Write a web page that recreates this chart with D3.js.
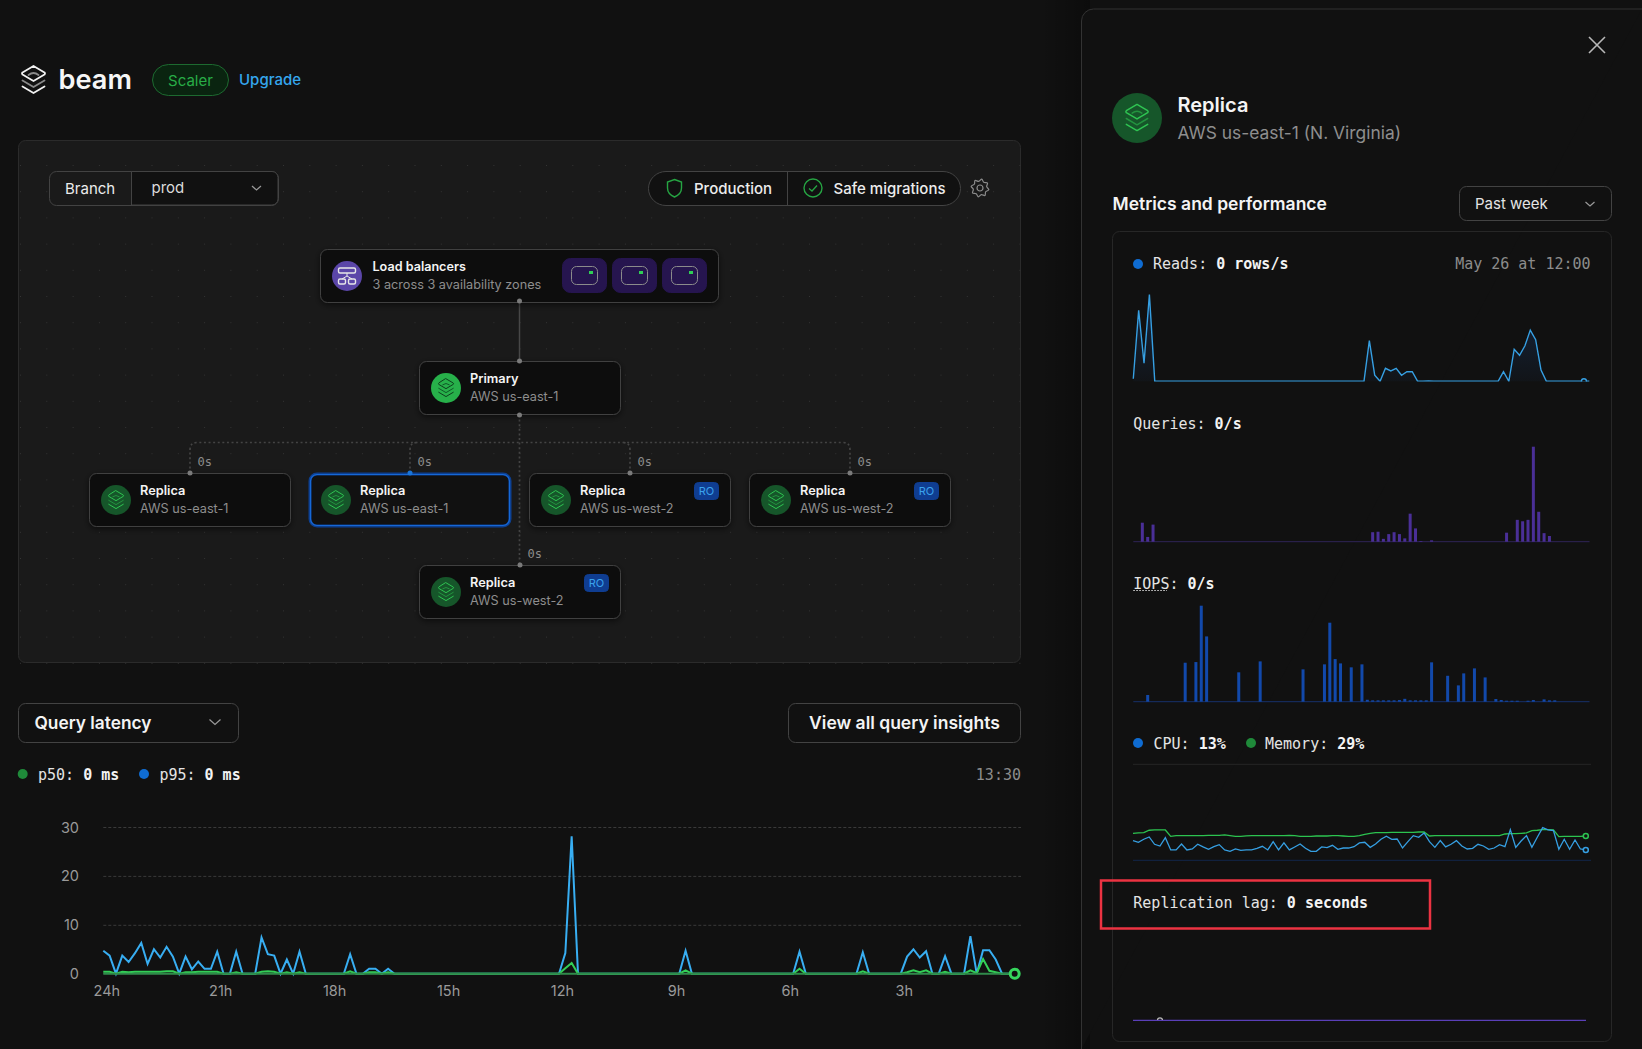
<!DOCTYPE html>
<html>
<head>
<meta charset="utf-8">
<style>
html, body { margin: 0; padding: 0; background: #111111; overflow: hidden; }
svg { display: block; }
text { font-family: Inter, "Noto Sans", sans-serif; }
.mono { font-family: "DejaVu Sans Mono", monospace; font-size: 15px; }
</style>
<script src="https://cdn.jsdelivr.net/npm/d3@7"></script>
</head>
<body>
<svg id="page" width="1642" height="1049"></svg>
<script>
// query latency, one reading every 10 minutes over 24 hours
const latencyHours = [24, 21, 18, 15, 12, 9, 6, 3];
const latencyTicks = [0, 10, 20, 30];
const p95Values = [
    4.7, 3.7, 0, 3.7, 2.4, 4.2, 6.3, 2, 5, 3.3,
    5.5, 3.5, 0, 3.5, 0.9, 2.5, 1, 1, 4.5, 0,
    0, 4.5, 0, 0, 0, 7.4, 4, 3.7, 0, 2.9,
    0, 4.5, 0, 0, 0, 0, 0, 0, 0, 4,
    0, 0, 1, 1, 0, 1, 0, 0, 0, 0,
    0, 0, 0, 0, 0, 0, 0, 0, 0, 0,
    0, 0, 0, 0, 0, 0, 0, 0, 0, 0,
    0, 0, 0, 4.2, 28.1, 0, 0, 0, 0, 0,
    0, 0, 0, 0, 0, 0, 0, 0, 0, 0,
    0, 0, 4.7, 0, 0, 0, 0, 0, 0, 0,
    0, 0, 0, 0, 0, 0, 0, 0, 0, 0,
    4.5, 0, 0, 0, 0, 0, 0, 0, 0, 0,
    4.4, 0, 0, 0, 0, 0, 0, 3.5, 5, 3.3,
    4.6, 0, 0, 3.6, 0, 0, 0, 7.7, 0, 4.8,
    4.8, 2.9, 0, 0, 0
];
const p50Values = [
    0.4, 0.4, 0, 0.4, 0.3, 0.4, 0.4, 0.4, 0.4, 0.4,
    0.5, 0.5, 0, 0.3, 0.3, 0.4, 0.4, 0.4, 0.4, 0,
    0, 0.3, 0, 0, 0, 0.4, 0.5, 0.4, 0, 0.3,
    0, 0.3, 0, 0, 0, 0, 0, 0, 0, 0.5,
    0, 0, 0.3, 0.3, 0, 0.3, 0, 0, 0, 0,
    0, 0, 0, 0, 0, 0, 0, 0, 0, 0,
    0, 0, 0, 0, 0, 0, 0, 0, 0, 0,
    0, 0, 0, 1.1, 2.2, 0, 0, 0, 0, 0,
    0, 0, 0, 0, 0, 0, 0, 0, 0, 0,
    0, 0, 0.7, 0, 0, 0, 0, 0, 0, 0,
    0, 0, 0, 0, 0, 0, 0, 0, 0, 0,
    1, 0, 0, 0, 0, 0, 0, 0, 0, 0,
    0.5, 0, 0, 0, 0, 0, 0, 0.3, 0.7, 0.3,
    0.7, 0, 0, 0.4, 0, 0, 0, 0.7, 0.1, 3,
    0.6, 0.3, 0, 0, 0
];

// side panel metrics, past week, values relative to each chart's own peak
const readsValues = [
    3, 82, 21, 100, 0, 0, 0, 0, 0, 0,
    0, 0, 0, 0, 0, 0, 0, 0, 0, 0,
    0, 0, 0, 0, 0, 0, 0, 0, 0, 0,
    0, 0, 0, 0, 0, 0, 0, 0, 0, 0,
    0, 0, 0, 0, 47, 7, 0, 15, 12, 15,
    7, 11, 11, 0, 0, 0.3, 0, 0, 0, 0,
    0, 0, 0, 0, 0, 0, 0, 0, 0, 11,
    0, 37, 30, 41, 59, 48, 13, 0, 0, 0,
    0, 0, 0, 0, 0, 0
];
const queriesValues = [
    0, 20, 5, 18, 0, 0, 0, 0, 0, 0,
    0, 0, 0, 0, 0, 0, 0, 0, 0, 0,
    0, 0, 0, 0, 0, 0, 0, 0, 0, 0,
    0, 0, 0, 0, 0, 0, 0, 0, 0, 0,
    0, 0, 0, 0, 10, 10.5, 3, 8, 10, 8,
    3.5, 29.5, 14, 0.7, 0, 1.4, 0, 0, 0, 0,
    0, 0, 0, 0, 0, 0, 0, 0, 0, 9.5,
    0, 23, 21.5, 23, 100, 31.5, 9, 6, 0, 0,
    0, 0, 0, 0, 0
];
const iopsValues = [
    0, 0, 7, 0, 0, 0, 0, 0, 0, 40.6,
    0, 41.3, 100, 68, 0, 0, 0, 0, 0, 30.6,
    0, 0, 0, 42, 0, 0, 0, 0, 0, 0,
    0, 33.7, 0, 0, 0, 38.9, 82.3, 44.4, 39.9, 0,
    35.8, 0, 38.9, 2, 1.4, 1.4, 1.4, 1.4, 1.4, 1.7,
    3, 1.4, 1.4, 1.4, 1.4, 41, 0, 0, 27, 0,
    17, 29.5, 0, 34.7, 0, 25.3, 0, 2.8, 1.7, 1,
    1, 1, 0, 1, 1.7, 0, 2.4, 1.4, 1.4, 0,
    0, 0, 0, 0, 0
];
const cpuValues = [
    20.5, 18.8, 21.9, 24.3, 16.7, 14.9, 23.6, 10.8, 10.8, 17,
    10.8, 11.8, 16.7, 13.9, 11.5, 14.2, 16.3, 10.8, 9.4, 11.8,
    10.4, 10.8, 10.8, 12.5, 14.6, 10.8, 19.4, 10.8, 18.1, 10.8,
    13.9, 17, 12.5, 9.4, 9.4, 13.9, 13.2, 15.6, 11.5, 12.8,
    12.8, 14.2, 18.1, 18.8, 13.5, 17, 21.9, 25, 21.9, 22.2,
    12.8, 19.4, 25.7, 24, 28.5, 19.4, 13.5, 20.5, 13.9, 16.7,
    20.5, 14.9, 11.8, 12.5, 16.7, 14.9, 11.5, 12.8, 16.3, 14.2,
    31.9, 13.5, 20.1, 25.7, 13.5, 24, 34, 31.6, 30.9, 11.5,
    21.9, 11.5, 21.2, 11.8, 10.8
];
const memoryValues = [
    28.1, 28.5, 28.8, 31.3, 31.6, 31.6, 31.6, 25, 25.7, 25.7,
    25.7, 25.7, 25.7, 25.7, 26, 26, 26, 26.4, 25.7, 25,
    25, 25.4, 25.7, 25.7, 25.7, 25.7, 25.7, 25.7, 25.7, 26,
    25.7, 25, 25, 25, 25.3, 25.3, 25.3, 25.7, 25.7, 25.3,
    25, 25, 25.7, 27.1, 28.1, 28.8, 28.8, 28.8, 29.1, 29.1,
    29.1, 29.1, 29.1, 29.5, 29.5, 25.3, 25.7, 25.7, 25.7, 25.7,
    25.7, 25.7, 25.7, 25.7, 25.7, 25.7, 25.7, 25.7, 25.7, 27.4,
    27.8, 27.8, 28.1, 28.5, 30.9, 31.3, 31.9, 31.9, 31.6, 24.7,
    25, 25, 25, 25, 25.3
];
const lagValues = [
    0, 0, 0, 0, 0, 0, 0, 0, 0, 0,
    0, 0, 0, 0, 0, 0, 0, 0, 0, 0,
    0, 0, 0, 0, 0, 0, 0, 0, 0, 0,
    0, 0, 0, 0, 0, 0, 0, 0, 0, 0,
    0, 0, 0, 0, 0, 0, 0, 0, 0, 0,
    0, 0, 0, 0, 0, 0, 0, 0, 0, 0,
    0, 0, 0, 0, 0, 0, 0, 0, 0, 0,
    0, 0, 0, 0, 0, 0, 0, 0, 0, 0,
    0, 0, 0, 0, 0
];

// topology
const replicaNames = ["Replica", "Replica", "Replica", "Replica", "Replica"];
const replicaRegions = ["AWS us-east-1", "AWS us-east-1", "AWS us-west-2", "AWS us-west-2", "AWS us-west-2"];
const replicaBadges = [false, false, true, true, true];
const replicaLags = ["0s", "0s", "0s", "0s", "0s"];

const svg = d3.select("#page");
const defs = svg.append("defs");

const colors = {
    bright: "#f4f4f4",
    muted: "#8e8e8e",
    border: "#3a3a3a",
    green: "#2fce55",
    legendGreen: "#1f8a3a",
    legendBlue: "#0f6cd2",
    lineBlue: "#38aef2",
    purple: "#4a2f97",
    barBlue: "#1249ab"
};

const addText = (parent, x, y, str, size, fill, weight = 400, anchor = "start") =>
    parent.append("text").attr("x", x).attr("y", y).attr("font-size", size)
        .attr("fill", fill).attr("font-weight", weight).attr("text-anchor", anchor).text(str);

const addBox = (parent, x, y, w, h, r, fill, stroke) =>
    parent.append("rect").attr("x", x + 0.5).attr("y", y + 0.5).attr("width", w - 1).attr("height", h - 1)
        .attr("rx", r).attr("fill", fill).attr("stroke", stroke).attr("stroke-width", 1);

const addChevron = (parent, cx, cy, size = 4.5) =>
    parent.append("path").attr("d", `M${cx - size},${cy - size / 2.2}L${cx},${cy + size / 2.2}L${cx + size},${cy - size / 2.2}`)
        .attr("fill", "none").attr("stroke", "#9a9a9a").attr("stroke-width", 1.2);

const addMonoPair = (parent, x, y, label, value) => {
    const t = parent.append("text").attr("class", "mono").attr("x", x).attr("y", y).attr("fill", "#e4e4e4");
    t.append("tspan").text(label + " ");
    t.append("tspan").attr("font-weight", 700).attr("fill", "#f4f4f4").text(value);
    return t;
};

// stacked layers glyph used for the logo and the database nodes
const addStack = (parent, cx, cy, k, color, midColor, width = 1.5) => {
    const g = parent.append("g").attr("transform", `translate(${cx},${cy}) scale(${k})`)
        .attr("fill", "none").attr("stroke-linejoin", "round").attr("stroke-linecap", "round");
    g.append("path").attr("d", "M0,-14 L11,-7.5 Q12,-6.5 11,-5.5 L0,1 L-11,-5.5 Q-12,-6.5 -11,-7.5 Z")
        .attr("stroke", color).attr("stroke-width", width / k);
    g.append("path").attr("d", "M-5,-5 Q0,-9 5,-5").attr("stroke", midColor).attr("stroke-width", width / k);
    g.append("path").attr("d", "M-11,0.5 L0,7 L11,0.5").attr("stroke", midColor).attr("stroke-width", width / k);
    g.append("path").attr("d", "M-11,6.5 L0,13 L11,6.5").attr("stroke", color).attr("stroke-width", width / k);
};

const drawPageBackground = () => {
    const shade = defs.append("linearGradient").attr("id", "drawer-shade");
    shade.append("stop").attr("offset", 0).attr("stop-color", "#000").attr("stop-opacity", 0);
    shade.append("stop").attr("offset", 1).attr("stop-color", "#000").attr("stop-opacity", 0.3);
    const shadow = defs.append("filter").attr("id", "node-shadow").attr("x", "-10%").attr("y", "-20%").attr("width", "120%").attr("height", "150%");
    shadow.append("feDropShadow").attr("dx", 0).attr("dy", 2).attr("stdDeviation", 3).attr("flood-color", "#000").attr("flood-opacity", 0.55);
    svg.append("rect").attr("width", 1642).attr("height", 1049).attr("fill", "#111111");
    svg.append("rect").attr("x", 1040).attr("width", 50).attr("height", 1049).attr("fill", "url(#drawer-shade)");
};

const drawHeader = () => {
    addStack(svg, 33.5, 80, 1, "#f2f2f2", "#8a8a8a", 1.8);
    addText(svg, 58.5, 89, "beam", 27.2, "#f6f6f6", 600);
    addBox(svg, 152, 64, 77, 32, 16, "#0a2410", "#1d6a30");
    addText(svg, 190.5, 85.5, "Scaler", 15, "#28ad47", 400, "middle");
    addText(svg, 239, 85, "Upgrade", 15, "#35a7ee", 500);
};

const drawTopologyPanel = () => {
    addBox(svg, 18, 140, 1003, 523, 7, "#1a1a1a", "#2b2b2b");
    const dotX = d3.range(0, 39).map(i => 20 + i * 26.3);
    const dotY = d3.range(0, 20).map(i => 165 + i * 26.2);
    const dots = svg.append("g").attr("fill", "#343434");
    dotY.forEach(y => dots.selectAll(null).data(dotX).join("rect")
        .attr("x", d => d).attr("y", y).attr("width", 1).attr("height", 1));

    // branch picker
    addBox(svg, 49, 171, 230, 35, 7, "#1a1a1a", "#434343");
    svg.append("path").attr("d", "M131.5,171.5H272a6,6 0 0 1 6,6V199a6,6 0 0 1 -6,6H131.5Z")
        .attr("fill", "#111").attr("stroke", "#434343");
    addText(svg, 65, 194, "Branch", 15, "#ececec");
    addText(svg, 151.5, 193, "prod", 15, "#dcdcdc");
    addChevron(svg, 256.5, 188);

    // environment pill
    addBox(svg, 648, 171, 313, 35, 17.5, "#111", "#434343");
    svg.append("line").attr("x1", 787.5).attr("x2", 787.5).attr("y1", 171).attr("y2", 206).attr("stroke", "#434343");
    svg.append("path").attr("d", "M674.5,179.5 L681.5,182 V188 Q681.5,194 674.5,197 Q667.5,194 667.5,188 V182 Z")
        .attr("fill", "none").attr("stroke", "#26a543").attr("stroke-width", 1.4);
    addText(svg, 694, 194, "Production", 15, "#ececec", 500);
    svg.append("circle").attr("cx", 813).attr("cy", 188).attr("r", 9).attr("fill", "none").attr("stroke", "#26a543").attr("stroke-width", 1.4);
    svg.append("path").attr("d", "M809,188.5 L812,191 L817,185.5").attr("fill", "none").attr("stroke", "#26a543").attr("stroke-width", 1.3);
    addText(svg, 833.5, 194, "Safe migrations", 15, "#ececec", 500);

    // settings gear
    const gear = svg.append("g").attr("transform", "translate(980,188)").attr("fill", "none").attr("stroke", "#8c8c8c").attr("stroke-width", 1.2);
    gear.append("circle").attr("r", 3);
    const gearPath = d3.range(0, 16).map(i => {
        const a = (i + 0.5) * Math.PI / 8;
        const r = i % 2 ? 6.8 : 9;
        return [Math.cos(a) * r, Math.sin(a) * r];
    });
    gear.append("path").attr("d", d3.line().curve(d3.curveCatmullRomClosed)(gearPath));
};

const drawLinks = () => {
    const dash = svg.append("g").attr("fill", "none").attr("stroke", "#444444").attr("stroke-width", 1.7).attr("stroke-dasharray", "2 2.6");
    dash.append("path").attr("d", "M190,473V450Q190,442.5 197,442.5H843Q850,442.5 850,450V473");
    dash.append("path").attr("d", "M410,473V450Q410,442.5 417,442.5");
    dash.append("path").attr("d", "M630,473V450Q630,442.5 623,442.5");
    dash.append("path").attr("d", "M519.5,415V565");
    svg.append("line").attr("x1", 519.5).attr("x2", 519.5).attr("y1", 301).attr("y2", 361).attr("stroke", "#474747").attr("stroke-width", 1.5);
};

const drawLoadBalancers = () => {
    addBox(svg, 320, 249, 399, 54, 7, "#111", "#404040").attr("filter", "url(#node-shadow)");
    svg.append("circle").attr("cx", 347).attr("cy", 276).attr("r", 15).attr("fill", "#5b46a8");
    const icon = svg.append("g").attr("fill", "none").attr("stroke", "#e8e8e8").attr("stroke-width", 1.4);
    icon.append("rect").attr("x", 338.5).attr("y", 268).attr("width", 17).attr("height", 5).attr("rx", 1.5);
    icon.append("rect").attr("x", 338.5).attr("y", 279).attr("width", 7).attr("height", 5).attr("rx", 1.5);
    icon.append("rect").attr("x", 348.5).attr("y", 279).attr("width", 7).attr("height", 5).attr("rx", 1.5);
    icon.append("path").attr("d", "M347,273V276M342,279L347,276L352,279").attr("stroke-width", 1);
    addText(svg, 372.5, 271, "Load balancers", 12.6, colors.bright, 600);
    addText(svg, 372.5, 289, "3 across 3 availability zones", 12.7, colors.muted);
    [562, 612, 662].forEach(x => {
        addBox(svg, x, 258, 45, 35, 8, "#26154f", "#26154f");
        svg.append("rect").attr("x", x + 9.5).attr("y", 266.5).attr("width", 26).attr("height", 18).attr("rx", 5)
            .attr("fill", "none").attr("stroke", "#8b8b8b").attr("stroke-width", 1);
        svg.append("rect").attr("x", x + 27).attr("y", 271).attr("width", 4).attr("height", 3).attr("fill", colors.green);
    });
};

const drawNode = (x, y, title, region, badge, selected, primary) => {
    if (selected) {
        svg.append("rect").attr("x", x + 1).attr("y", y + 1).attr("width", 200).attr("height", 52).attr("rx", 7)
            .attr("fill", "#111").attr("stroke", "#0d3f8f").attr("stroke-width", 3);
        svg.append("rect").attr("x", x + 1.5).attr("y", y + 1.5).attr("width", 199).attr("height", 51).attr("rx", 6.5)
            .attr("fill", "none").attr("stroke", "#1668d6").attr("stroke-width", 1.2);
    } else {
        addBox(svg, x, y, 202, 54, 7, "#111", "#404040").attr("filter", "url(#node-shadow)");
    }
    svg.append("circle").attr("cx", x + 27).attr("cy", y + 27).attr("r", 15).attr("fill", primary ? "#27b04a" : "#16562a");
    if (primary) addStack(svg, x + 27, y + 27, 0.66, "#0d3f1d", "#0f5a28", 1);
    else addStack(svg, x + 27, y + 27, 0.66, "#2fc452", "#23933f", 1);
    addText(svg, x + 51, y + 21.5, title, 12.8, colors.bright, 600);
    addText(svg, x + 51, y + 39.7, region, 12.7, colors.muted);
    if (badge) {
        addBox(svg, x + 165, y + 9, 25, 18, 4, "#0f3d91", "#0f3d91");
        addText(svg, x + 177.5, y + 22, "RO", 11, "#3aa3ee", 400, "middle");
    }
};

const addDot = (x, y, fill = "#7a7a7a") =>
    svg.append("circle").attr("cx", x).attr("cy", y).attr("r", 2.5).attr("fill", fill);

const drawTopology = () => {
    drawLinks();
    drawLoadBalancers();
    drawNode(419, 361, "Primary", "AWS us-east-1", false, false, true);
    const nodeX = [89, 309, 529, 749, 419];
    const nodeY = [473, 473, 473, 473, 565];
    replicaNames.forEach((name, i) => {
        drawNode(nodeX[i], nodeY[i], name, replicaRegions[i], replicaBadges[i], i === 1, false);
        addDot(nodeX[i] + 101, nodeY[i], i === 1 ? "#1a74d8" : "#7a7a7a");
        const lagLabel = addText(svg, nodeX[i] + 108.5, nodeY[i] - 7.5, replicaLags[i], 12, "#8c8c8c");
        lagLabel.style("font-family", '"DejaVu Sans Mono", monospace');
    });
    addDot(519.5, 301);
    addDot(519.5, 361);
    addDot(519.5, 415);
};

const drawLatency = () => {
    addBox(svg, 18, 703, 221, 40, 7, "#111", "#434343");
    addText(svg, 34.5, 729, "Query latency", 17.3, colors.bright, 600);
    addChevron(svg, 215, 722, 5.5);
    addBox(svg, 788, 703, 233, 40, 7, "#111", "#434343");
    addText(svg, 904.5, 729, "View all query insights", 17.5, colors.bright, 600, "middle");

    svg.append("circle").attr("cx", 22.7).attr("cy", 774).attr("r", 5).attr("fill", colors.legendGreen);
    addMonoPair(svg, 38, 780, "p50:", "0 ms");
    svg.append("circle").attr("cx", 144).attr("cy", 774).attr("r", 5).attr("fill", colors.legendBlue);
    addMonoPair(svg, 159.4, 780, "p95:", "0 ms");
    svg.append("text").attr("class", "mono").attr("x", 1021).attr("y", 780).attr("text-anchor", "end").attr("fill", "#8c8c8c").text("13:30");

    const x = d3.scaleLinear().domain([24, 0]).range([103.3, 1014.7]);
    const y = d3.scaleLinear().domain([0, 30]).range([973.7, 827]);
    const hourOf = (d, i) => 24 - i / 6;

    const yAxis = d3.axisLeft(y).tickValues(latencyTicks).tickSize(0).tickPadding(0);
    const yg = svg.append("g").attr("transform", "translate(79,0)").call(yAxis);
    yg.select(".domain").remove();
    yg.selectAll("text").attr("font-size", 14.5).attr("fill", "#9a9a9a").attr("font-family", "Inter").attr("dy", "0.35em");

    const xAxis = d3.axisBottom(x).tickValues(latencyHours).tickFormat(d => d + "h").tickSize(0).tickPadding(0);
    const xg = svg.append("g").attr("transform", "translate(3,986)").call(xAxis);
    xg.select(".domain").remove();
    xg.selectAll("text").attr("font-size", 14.5).attr("fill", "#9a9a9a").attr("font-family", "Inter").attr("dy", "0.71em");

    svg.append("g").selectAll("line").data(latencyTicks.filter(d => d > 0)).join("line")
        .attr("x1", 103.3).attr("x2", 1021).attr("y1", d => y(d) + 0.5).attr("y2", d => y(d) + 0.5)
        .attr("stroke", "#3a3a3a").attr("stroke-dasharray", "3 2");
    svg.append("line").attr("x1", 103.3).attr("x2", 1014.7).attr("y1", y(0)).attr("y2", y(0)).attr("stroke", "#444").attr("stroke-width", 1);

    const line = d3.line().x((d, i) => x(hourOf(d, i))).y(d => y(d));
    svg.append("path").datum(p95Values).attr("d", line).attr("fill", "none").attr("stroke", colors.lineBlue).attr("stroke-width", 2);
    svg.append("path").datum(p50Values).attr("d", line).attr("fill", "none").attr("stroke", "#33cf57").attr("stroke-width", 2);
    svg.append("path").datum(p50Values.map(() => 0)).attr("d", line).attr("fill", "none").attr("stroke", "#2f8a4a").attr("stroke-width", 2);
    svg.append("circle").attr("cx", x(0)).attr("cy", y(0)).attr("r", 4.5).attr("fill", "#111").attr("stroke", "#36d65c").attr("stroke-width", 3);
};

const drawDrawerShell = () => {
    svg.append("path").attr("d", "M1081.5,1049V21a12,12 0 0 1 12,-12H1642").attr("fill", "#111").attr("stroke", "#333");
    svg.append("path").attr("d", "M1589,37L1605,53M1605,37L1589,53").attr("stroke", "#b8b8b8").attr("stroke-width", 1.6);
    svg.append("circle").attr("cx", 1137).attr("cy", 118).attr("r", 25).attr("fill", "#16562a");
    addStack(svg, 1137, 118, 0.97, "#2fc452", "#23933f", 1.5);
    addText(svg, 1177.5, 112, "Replica", 20, colors.bright, 600);
    addText(svg, 1177.5, 138.7, "AWS us-east-1 (N. Virginia)", 17.4, colors.muted);
    addText(svg, 1112.5, 210, "Metrics and performance", 17.5, colors.bright, 600);
    addBox(svg, 1459, 186, 153, 35, 7, "#111", "#434343");
    addText(svg, 1475, 209, "Past week", 15, "#e4e4e4");
    addChevron(svg, 1590, 204);
    addBox(svg, 1112, 231, 500, 811, 7, "none", "#272727");
};

const drawReads = () => {
    svg.append("circle").attr("cx", 1138).attr("cy", 264).attr("r", 5).attr("fill", colors.legendBlue);
    addMonoPair(svg, 1153, 269, "Reads:", "0 rows/s");
    svg.append("text").attr("class", "mono").attr("x", 1590.6).attr("y", 269).attr("text-anchor", "end").attr("fill", "#8c8c8c").text("May 26 at 12:00");

    const x = d3.scaleLinear().domain([0, readsValues.length - 1]).range([1133.3, 1589.3]);
    const y = d3.scaleLinear().domain([0, 100]).range([381.3, 294.6]);
    const fade = defs.append("linearGradient").attr("id", "reads-fill").attr("x1", 0).attr("x2", 0).attr("y1", 0).attr("y2", 1);
    fade.append("stop").attr("offset", 0).attr("stop-color", "#1c4f9a").attr("stop-opacity", 0.35);
    fade.append("stop").attr("offset", 1).attr("stop-color", "#1c4f9a").attr("stop-opacity", 0.05);
    defs.append("clipPath").attr("id", "reads-clip").append("rect").attr("x", 1130).attr("y", 290).attr("width", 470).attr("height", 91.6);
    const area = d3.area().x((d, i) => x(i)).y0(y(0)).y1(d => y(d));
    const line = d3.line().x((d, i) => x(i)).y(d => y(d));
    svg.append("path").datum(readsValues).attr("d", area).attr("fill", "url(#reads-fill)");
    svg.append("path").datum(readsValues).attr("d", line).attr("fill", "none").attr("stroke", "#369fe2").attr("stroke-width", 1.4).attr("clip-path", "url(#reads-clip)");
    svg.append("circle").attr("cx", x(84)).attr("cy", y(0)).attr("r", 2.5).attr("fill", "#111").attr("stroke", "#369fe2").attr("stroke-width", 1.4).attr("clip-path", "url(#reads-clip)");
};

const drawBars = (values, top, bottom, fill, axisColor) => {
    const x = d3.scaleBand().domain(d3.range(values.length)).range([1134.3, 1589.6]);
    const y = d3.scaleLinear().domain([0, 100]).range([bottom, top]);
    svg.append("line").attr("x1", 1133.3).attr("x2", 1589.5).attr("y1", bottom).attr("y2", bottom).attr("stroke", axisColor);
    svg.append("g").selectAll("rect").data(values).join("rect")
        .attr("x", (d, i) => x(i) + x.bandwidth() / 2 - 1.5).attr("width", 3)
        .attr("y", d => y(d)).attr("height", d => bottom - y(d)).attr("fill", fill);
};

const drawCounts = () => {
    addMonoPair(svg, 1133.3, 428.5, "Queries:", "0/s");
    drawBars(queriesValues, 446.7, 541.7, colors.purple, "#2f2458");
    addMonoPair(svg, 1133.3, 588.5, "IOPS:", "0/s");
    svg.append("line").attr("x1", 1133.3).attr("x2", 1167).attr("y1", 590.5).attr("y2", 590.5)
        .attr("stroke", "#d8d8d8").attr("stroke-dasharray", "1.5 1.5");
    drawBars(iopsValues, 605.7, 701.7, colors.barBlue, "#17306a");
};

const drawUsage = () => {
    svg.append("circle").attr("cx", 1138).attr("cy", 743).attr("r", 5).attr("fill", colors.legendBlue);
    addMonoPair(svg, 1153.5, 749, "CPU:", "13%");
    svg.append("circle").attr("cx", 1251).attr("cy", 743).attr("r", 5).attr("fill", colors.legendGreen);
    addMonoPair(svg, 1265, 749, "Memory:", "29%");

    const x = d3.scaleLinear().domain([0, cpuValues.length - 1]).range([1133, 1585.8]);
    const y = d3.scaleLinear().domain([0, 100]).range([860.3, 764.3]);
    svg.append("line").attr("x1", 1133).attr("x2", 1591).attr("y1", y(100)).attr("y2", y(100)).attr("stroke", "#262626");
    svg.append("line").attr("x1", 1133).attr("x2", 1591).attr("y1", y(0)).attr("y2", y(0)).attr("stroke", "#12264a");
    const line = d3.line().x((d, i) => x(i)).y(d => y(d));
    svg.append("path").datum(memoryValues).attr("d", line).attr("fill", "none").attr("stroke", "#2cc350").attr("stroke-width", 1.3);
    svg.append("path").datum(cpuValues).attr("d", line).attr("fill", "none").attr("stroke", "#369fe2").attr("stroke-width", 1.3);
    const last = cpuValues.length - 1;
    svg.append("circle").attr("cx", x(last)).attr("cy", y(memoryValues[last])).attr("r", 2.5).attr("fill", "#111").attr("stroke", "#2cc350").attr("stroke-width", 1.5);
    svg.append("circle").attr("cx", x(last)).attr("cy", y(cpuValues[last])).attr("r", 2.5).attr("fill", "#111").attr("stroke", "#369fe2").attr("stroke-width", 1.5);
};

const drawLag = () => {
    addMonoPair(svg, 1133.3, 907.7, "Replication lag:", "0 seconds");
    svg.append("rect").attr("x", 1101).attr("y", 880.5).attr("width", 329).attr("height", 48)
        .attr("fill", "none").attr("stroke", "#ec3342").attr("stroke-width", 2.5);

    const x = d3.scaleLinear().domain([0, lagValues.length - 1]).range([1133, 1586]);
    const y = d3.scaleLinear().domain([0, 30]).range([1020.3, 940]);
    svg.append("path").datum(lagValues).attr("d", d3.line().x((d, i) => x(i)).y(d => y(d)))
        .attr("fill", "none").attr("stroke", "#5a3fb8").attr("stroke-width", 1.3);
    defs.append("clipPath").attr("id", "lag-clip").append("rect").attr("x", 1130).attr("y", 1000).attr("width", 470).attr("height", 20);
    svg.append("circle").attr("cx", x(5)).attr("cy", y(0)).attr("r", 2.5).attr("fill", "none").attr("stroke", "#b8b8b8").attr("stroke-width", 1.2).attr("clip-path", "url(#lag-clip)");
};

const renderPage = () => {
    drawPageBackground();
    drawHeader();
    drawTopologyPanel();
    drawTopology();
    drawLatency();
    drawDrawerShell();
    drawReads();
    drawCounts();
    drawUsage();
    drawLag();
};

renderPage();
</script>
</body>
</html>
